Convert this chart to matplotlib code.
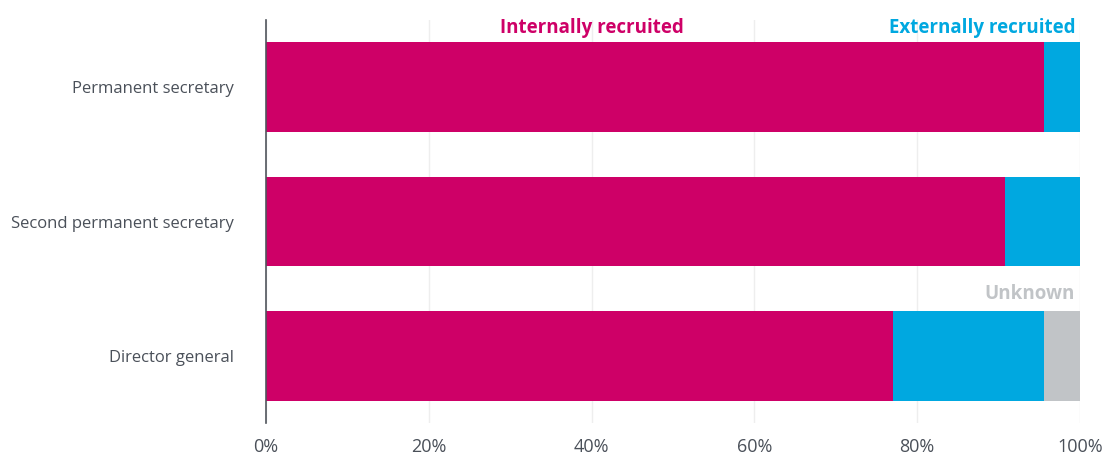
import numpy as np
import matplotlib
matplotlib.use("Agg")
import matplotlib.pyplot as plt

roles = ["Permanent secretary", "Second permanent secretary", "Director general"]
internal = [95.6, 90.8, 77.0]
external = [4.4, 9.2, 18.6]
unknown = [0.0, 0.0, 4.4]
xticks = [0, 20, 40, 60, 80, 100]

MAGENTA = "#CE0067"
BLUE = "#00A8E0"
GREY = "#C1C4C7"
TEXT = "#4A5059"

plt.rcParams["font.family"] = ["Open Sans", "DejaVu Sans"]

fig = plt.figure(figsize=(11.07, 4.58), dpi=100)
ax = fig.add_axes([0.2403, 0.0764, 0.9756 - 0.2403, 0.9563 - 0.0764])

y = np.arange(len(roles))
internal = np.array(internal)
external = np.array(external)
unknown = np.array(unknown)
h = 0.667
ax.barh(y, internal, height=h, color=MAGENTA, zorder=2)
ax.barh(y, external, left=internal, height=h, color=BLUE, zorder=2)
ax.barh(y, unknown, left=internal + external, height=h, color=GREY, zorder=2)

ax.set_xlim(0, 100)
ax.set_ylim(2.5, -0.5)
ax.set_yticks(y, roles, fontsize=12, color=TEXT)
ax.set_xticks(xticks, [f"{v}%" for v in xticks], fontsize=13, color=TEXT)
ax.tick_params(axis="y", length=0, pad=23)
ax.tick_params(axis="x", length=0, pad=11)

ax.grid(axis="x", color="#EEEEEE", linewidth=1, zorder=0)
for s in ["top", "right", "bottom"]:
    ax.spines[s].set_visible(False)
ax.spines["left"].set_color("#50555C")
ax.spines["left"].set_linewidth(1.2)
ax.spines["left"].set_zorder(3)

# series names sit just above the bars they describe
ax.text(40, -0.40, "Internally recruited", color=MAGENTA, fontsize=13.5,
        fontweight="bold", ha="center", va="baseline")
ax.text(99.4, -0.40, "Externally recruited", color=BLUE, fontsize=13.5,
        fontweight="bold", ha="right", va="baseline")
ax.text(99.4, 1.58, "Unknown", color=GREY, fontsize=13.5,
        fontweight="bold", ha="right", va="baseline")

fig.savefig("out.png", dpi=100)
